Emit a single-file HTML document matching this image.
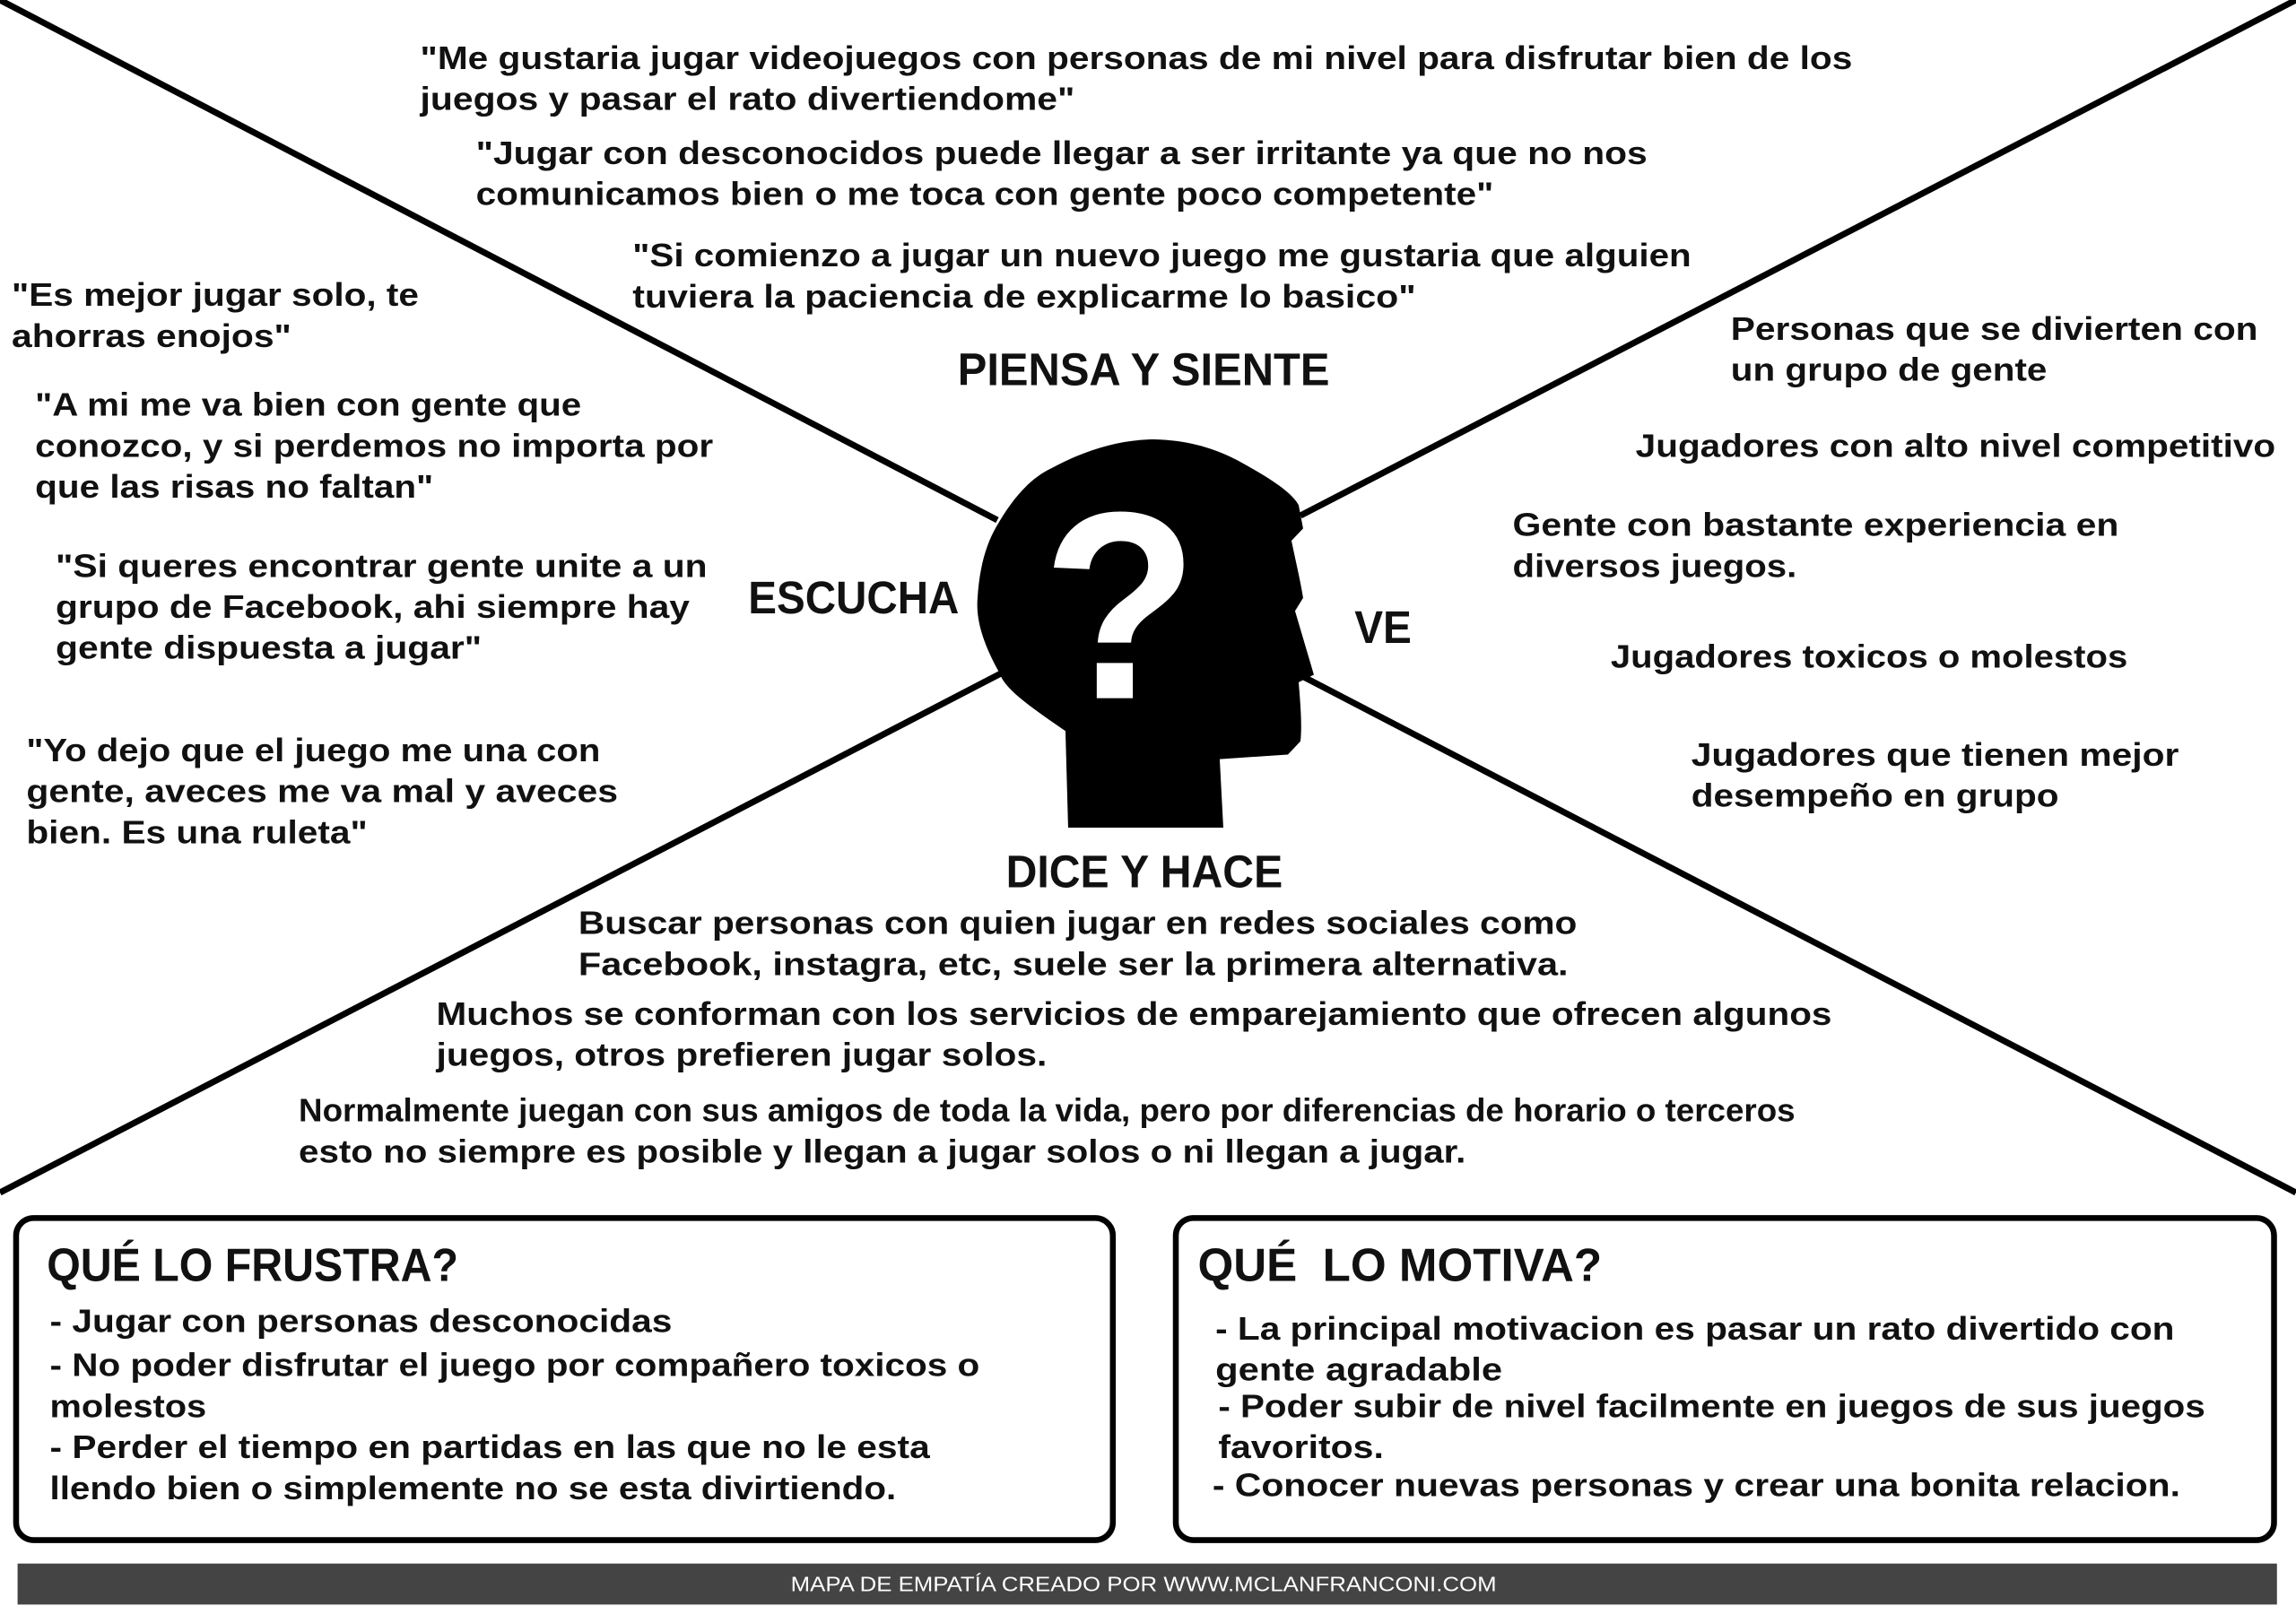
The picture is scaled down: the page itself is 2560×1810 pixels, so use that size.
<!DOCTYPE html>
<html><head><meta charset="utf-8"><style>
html,body{margin:0;padding:0;background:#fff;}
svg{display:block;}
text{font-family:"Liberation Sans",sans-serif;font-weight:bold;fill:#111;}
</style></head><body>
<svg width="2560" height="1810" viewBox="0 0 1568 1108.6" xmlns="http://www.w3.org/2000/svg">
<rect x="0" y="0" width="1568" height="1108.6" fill="#fff"/>
<g transform="scale(0.61248)">
  <g stroke="#000" stroke-width="7" fill="none">
    <line x1="0" y1="0" x2="1112" y2="580"/>
    <line x1="2560" y1="0" x2="1450" y2="575"/>
    <line x1="0" y1="1330" x2="1118" y2="750"/>
    <line x1="2560" y1="1330" x2="1448" y2="752"/>
  </g>
  <g transform="translate(0,490) scale(1,1.046) translate(0,-464)">
  <path fill="#000" d="M1191,878 L1188,775 C1150,750 1120,730 1115,714 C1095,680 1088,655 1090,633 C1092,600 1100,575 1111,557 C1130,525 1150,505 1172,495 C1210,475 1250,464 1287,464 C1330,465 1360,476 1383,488 C1415,505 1440,520 1448,534 L1453,559 L1440,572 C1445,595 1450,615 1453,633 L1444,647 L1465,715 L1448,723 C1450,745 1452,770 1450,786 L1436,800 L1360,805 L1364,878 Z"/>
  <text x="1249" y="740" text-anchor="middle" font-size="285" style="fill:#fff">?</text>
  </g>
</g>

<g font-size="22">
<text x="287" y="47" textLength="978" lengthAdjust="spacingAndGlyphs">"Me gustaria jugar videojuegos con personas de mi nivel para disfrutar bien de los</text>
<text x="287" y="75" textLength="447" lengthAdjust="spacingAndGlyphs">juegos y pasar el rato divertiendome"</text>
<text x="325" y="112" textLength="800" lengthAdjust="spacingAndGlyphs">"Jugar con desconocidos puede llegar a ser irritante ya que no nos</text>
<text x="325" y="140" textLength="695" lengthAdjust="spacingAndGlyphs">comunicamos bien o me toca con gente poco competente"</text>
<text x="432" y="182" textLength="723" lengthAdjust="spacingAndGlyphs">"Si comienzo a jugar un nuevo juego me gustaria que alguien</text>
<text x="432" y="210" textLength="535" lengthAdjust="spacingAndGlyphs">tuviera la paciencia de explicarme lo basico"</text>

<text x="8" y="209" textLength="278" lengthAdjust="spacingAndGlyphs">"Es mejor jugar solo, te</text>
<text x="8" y="237" textLength="191" lengthAdjust="spacingAndGlyphs">ahorras enojos"</text>
<text x="24" y="284" textLength="373" lengthAdjust="spacingAndGlyphs">"A mi me va bien con gente que</text>
<text x="24" y="312" textLength="463" lengthAdjust="spacingAndGlyphs">conozco, y si perdemos no importa por</text>
<text x="24" y="340" textLength="272" lengthAdjust="spacingAndGlyphs">que las risas no faltan"</text>
<text x="38" y="394" textLength="445" lengthAdjust="spacingAndGlyphs">"Si queres encontrar gente unite a un</text>
<text x="38" y="422" textLength="433" lengthAdjust="spacingAndGlyphs">grupo de Facebook, ahi siempre hay</text>
<text x="38" y="450" textLength="291" lengthAdjust="spacingAndGlyphs">gente dispuesta a jugar"</text>
<text x="18" y="520" textLength="392" lengthAdjust="spacingAndGlyphs">"Yo dejo que el juego me una con</text>
<text x="18" y="548" textLength="404" lengthAdjust="spacingAndGlyphs">gente, aveces me va mal y aveces</text>
<text x="18" y="576" textLength="233" lengthAdjust="spacingAndGlyphs">bien. Es una ruleta"</text>

<text x="1182" y="232" textLength="360" lengthAdjust="spacingAndGlyphs">Personas que se divierten con</text>
<text x="1182" y="260" textLength="216" lengthAdjust="spacingAndGlyphs">un grupo de gente</text>
<text x="1117" y="312" textLength="437" lengthAdjust="spacingAndGlyphs">Jugadores con alto nivel competitivo</text>
<text x="1033" y="366" textLength="414" lengthAdjust="spacingAndGlyphs">Gente con bastante experiencia en</text>
<text x="1033" y="394" textLength="194" lengthAdjust="spacingAndGlyphs">diversos juegos.</text>
<text x="1100" y="456" textLength="353" lengthAdjust="spacingAndGlyphs">Jugadores toxicos o molestos</text>
<text x="1155" y="523" textLength="333" lengthAdjust="spacingAndGlyphs">Jugadores que tienen mejor</text>
<text x="1155" y="551" textLength="251" lengthAdjust="spacingAndGlyphs">desempeño en grupo</text>

<text x="395" y="638" textLength="682" lengthAdjust="spacingAndGlyphs">Buscar personas con quien jugar en redes sociales como</text>
<text x="395" y="666" textLength="676" lengthAdjust="spacingAndGlyphs">Facebook, instagra, etc, suele ser la primera alternativa.</text>
<text x="298" y="700" textLength="953" lengthAdjust="spacingAndGlyphs">Muchos se conforman con los servicios de emparejamiento que ofrecen algunos</text>
<text x="298" y="728" textLength="417" lengthAdjust="spacingAndGlyphs">juegos, otros prefieren jugar solos.</text>
<text x="204" y="766" textLength="1022" lengthAdjust="spacingAndGlyphs">Normalmente juegan con sus amigos de toda la vida, pero por diferencias de horario o terceros</text>
<text x="204" y="794" textLength="797" lengthAdjust="spacingAndGlyphs">esto no siempre es posible y llegan a jugar solos o ni llegan a jugar.</text>
</g>

<g font-size="31">
<text x="654" y="263" textLength="254" lengthAdjust="spacingAndGlyphs">PIENSA Y SIENTE</text>
<text x="511" y="419" textLength="144" lengthAdjust="spacingAndGlyphs">ESCUCHA</text>
<text x="925" y="439" textLength="39" lengthAdjust="spacingAndGlyphs">VE</text>
<text x="687" y="606" textLength="189" lengthAdjust="spacingAndGlyphs">DICE Y HACE</text>
</g>

<rect x="11" y="832" width="749" height="220" rx="12" fill="none" stroke="#000" stroke-width="4"/>
<rect x="803" y="832" width="750" height="220" rx="12" fill="none" stroke="#000" stroke-width="4"/>
<g font-size="32">
<text x="32" y="875" textLength="281" lengthAdjust="spacingAndGlyphs">QUÉ LO FRUSTRA?</text>
<text x="818" y="875" textLength="276" lengthAdjust="spacingAndGlyphs" xml:space="preserve">QUÉ  LO MOTIVA?</text>
</g>
<g font-size="22">
<text x="34" y="910" textLength="425" lengthAdjust="spacingAndGlyphs">- Jugar con personas desconocidas</text>
<text x="34" y="940" textLength="635" lengthAdjust="spacingAndGlyphs">- No poder disfrutar el juego por compañero toxicos o</text>
<text x="34" y="968" textLength="107" lengthAdjust="spacingAndGlyphs">molestos</text>
<text x="34" y="996" textLength="601" lengthAdjust="spacingAndGlyphs">- Perder el tiempo en partidas en las que no le esta</text>
<text x="34" y="1024" textLength="578" lengthAdjust="spacingAndGlyphs">llendo bien o simplemente no se esta divirtiendo.</text>
<text x="830" y="915" textLength="655" lengthAdjust="spacingAndGlyphs">- La principal motivacion es pasar un rato divertido con</text>
<text x="830" y="943" textLength="196" lengthAdjust="spacingAndGlyphs">gente agradable</text>
<text x="832" y="968" textLength="674" lengthAdjust="spacingAndGlyphs">- Poder subir de nivel facilmente en juegos de sus juegos</text>
<text x="832" y="996" textLength="113" lengthAdjust="spacingAndGlyphs">favoritos.</text>
<text x="828" y="1022" textLength="661" lengthAdjust="spacingAndGlyphs">- Conocer nuevas personas y crear una bonita relacion.</text>
</g>

<rect x="12" y="1068" width="1543" height="28" fill="#444"/>
<text x="540" y="1087" font-size="14" textLength="482" lengthAdjust="spacingAndGlyphs" style="fill:#fff;font-weight:normal">MAPA DE EMPATÍA CREADO POR WWW.MCLANFRANCONI.COM</text>
</svg>
</body></html>
